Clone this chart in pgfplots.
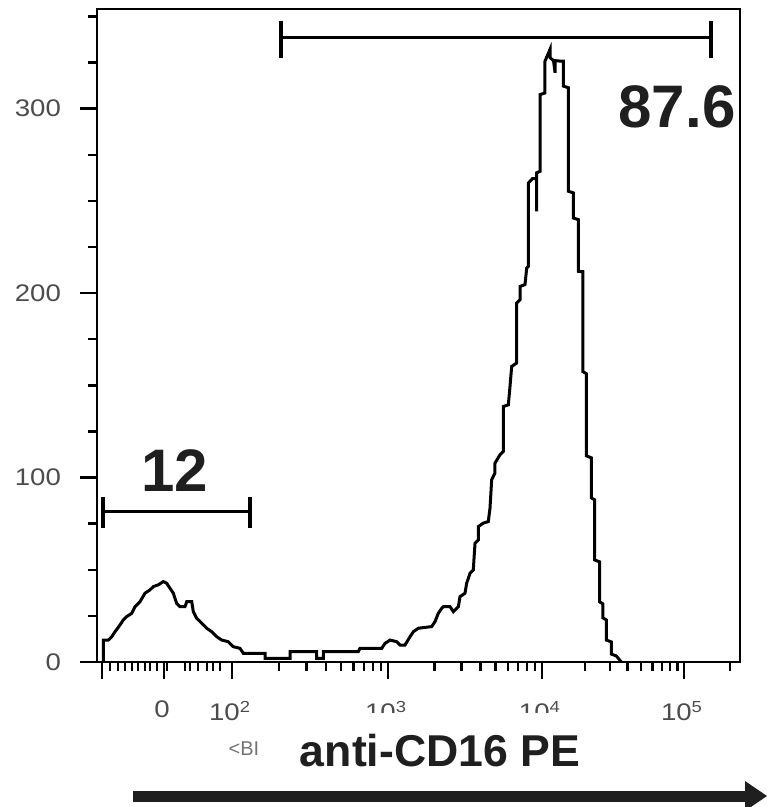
\documentclass[border=0pt]{standalone}
\usepackage{fontspec}
\setmainfont{Liberation Sans}
\newfontfamily\tickfont[FakeStretch=1.15]{Liberation Sans}
\usepackage{pgfplots}
\pgfplotsset{compat=1.18}
\pgfplotstableread{
u c
9.8 0
9.8 11.9
17.6 11.9
22.9 13.7
28.0 16.4
35.8 20.1
40.9 22.8
46.2 24.6
54.0 26.4
59.1 30.0
66.9 32.7
74.6 37.3
82.4 39.1
87.6 40.9
95.3 41.8
103.1 43.6
108.4 42.7
113.5 40.0
118.7 37.3
123.9 31.8
129.1 30.0
136.9 30.0
139.5 32.7
147.3 32.7
149.8 27.3
155.0 23.7
162.8 21.0
170.6 18.3
178.4 16.4
186.2 13.7
193.9 11.9
204.2 11.0
212.0 8.3
222.4 7.4
227.5 4.7
261.3 4.7
261.3 2.0
300.2 2.0
300.2 5.6
341.7 5.6
341.7 2.0
351.9 2.0
351.9 5.6
406.4 5.6
409.0 7.4
442.8 7.4
447.9 10.1
455.7 11.9
466.1 11.0
471.2 9.2
479.0 9.2
486.8 13.7
491.9 16.4
499.7 18.3
520.5 19.2
525.7 21.9
530.8 26.4
536.1 29.1
538.6 30.0
549.0 30.0
554.2 27.3
562.0 30.0
564.5 35.4
572.3 37.3
574.9 42.7
580.1 48.1
585.2 49.9
587.9 64.4
593.0 66.2
593.0 73.4
600.8 75.3
608.5 76.1
611.2 83.4
613.8 98.8
618.9 102.4
618.9 107.8
626.7 112.3
631.9 114.1
631.9 138.5
639.7 139.4
642.3 149.4
644.9 160.2
652.7 162.1
652.7 194.6
657.9 196.4
657.9 203.6
665.6 204.6
668.3 213.6
671.0 214.5
671.0 259.7
677.1 262.0
683.8 262.0
683.8 244.3
683.8 265.2
689.0 266.0
689.0 307.6
696.7 308.5
696.7 325.7
704.5 332.1
704.5 327.6
710.0 326.0
712.4 319.4
712.4 326.0
722.6 325.7
725.2 325.7
725.2 312.2
733.0 311.3
733.0 255.2
740.8 254.3
740.8 240.7
748.5 239.8
748.5 211.8
755.8 211.6
755.8 157.4
761.0 156.3
761.0 111.8
768.7 110.7
768.7 89.0
774.0 87.9
774.0 55.3
781.8 54.3
781.8 32.6
786.9 31.5
786.9 23.9
792.1 22.8
792.1 11.9
799.8 10.9
799.8 4.3
807.6 3.3
815.4 0
}\histdata
\begin{document}
\begin{tikzpicture}
\begin{axis}[
  at={(48.5pt,-331pt)}, anchor=south west,
  scale only axis, width=321.5pt, height=326.5pt,
  xmin=0, xmax=1000, ymin=0, ymax=354,
  axis line style={line width=1.2pt},
  tick align=outside, tick pos=left,
  major tick length=8.5pt, minor tick length=4.5pt,
  every tick/.style={line width=1.2pt, black},
  xtick={7.8,104.2,210,452.6,692,912.9},
  xticklabels={,0,10\textsuperscript{2},10\textsuperscript{3},10\textsuperscript{4},10\textsuperscript{5}},
  minor xtick={20.2,32.7,43.5,54.4,63.8,74.6,82.4,93.3,108.9,136.9,144.6,157.1,171.1,180.4,191.3,283.0,325.8,356.0,379.6,398.8,415.0,429.1,441.5,524.7,566.8,596.7,619.9,638.9,654.9,668.8,681.0,758.5,797.4,825.0,846.4,863.9,878.7,891.5,902.8,984.4},
  ytick={0,100,200,300}, yticklabels={0,100,200,300},
  minor ytick={25,50,75,125,150,175,225,250,275,325,350},
  ticklabel style={font=\tickfont\fontsize{12pt}{12pt}\selectfont, text=black!70},
  xticklabel style={yshift=-7.5pt, xshift=-1pt},
  yticklabel style={xshift=-6pt},
  clip=false,
]
\addplot[line width=1.5pt, black, line join=miter] table[x=u,y=c] {\histdata};
% gates
\draw[line width=1.6pt, black] (axis cs:286,338.6) -- (axis cs:955,338.6);
\draw[line width=1.6pt, black] (axis cs:286,347.3) -- (axis cs:286,327.7);
\draw[line width=1.6pt, black] (axis cs:955,347.3) -- (axis cs:955,327.7);
\draw[line width=1.6pt, black] (axis cs:9.3,81.4) -- (axis cs:237.9,81.4);
\draw[line width=1.6pt, black] (axis cs:9.3,89.5) -- (axis cs:9.3,72.7);
\draw[line width=1.6pt, black] (axis cs:237.9,89.5) -- (axis cs:237.9,72.7);
\node[font=\bfseries\fontsize{30pt}{30pt}\selectfont, text=black!88] at (axis cs:902,301) {87.6};
\node[font=\bfseries\fontsize{30pt}{30pt}\selectfont, text=black!88] at (axis cs:121,104) {12};
\end{axis}
\begin{scope}[x=0.5pt,y=-0.5pt]
\fill[white] (295,713) rectangle (595,775);
\node[text=black!55, font=\fontsize{10pt}{10pt}\selectfont] at (244,749) {<BI};
\node[text=black!88, font=\bfseries\fontsize{22.3pt}{22.3pt}\selectfont] at (440,751) {anti-CD16 PE};
\draw[line width=5.5pt, black!88] (133,796) -- (750,796);
\fill[black!88] (745,781) -- (767,796) -- (745,811) -- cycle;
\pgfresetboundingbox
\path (0,0) rectangle (767,807);
\end{scope}
\end{tikzpicture}
\end{document}
